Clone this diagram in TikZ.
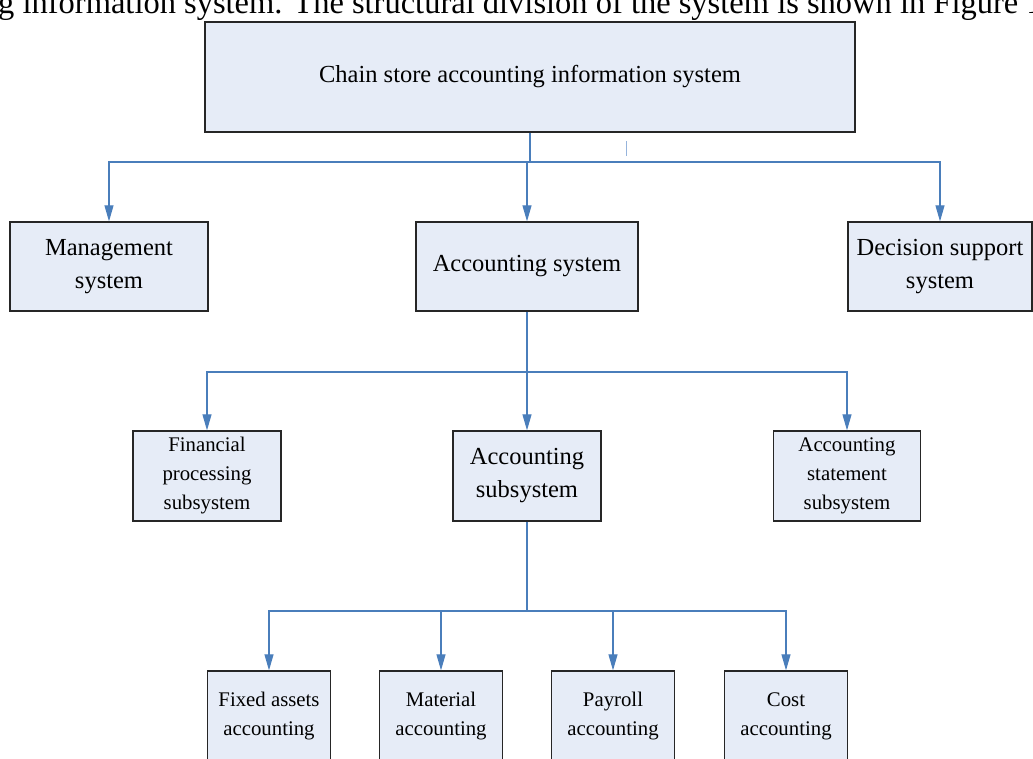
\documentclass[tikz,border=0pt]{standalone}
\usepackage{fontspec}
\setmainfont{Liberation Serif}
\usetikzlibrary{arrows.meta}

\definecolor{boxfill}{RGB}{230,236,247}
\definecolor{lineblue}{RGB}{74,126,187}
\definecolor{tickblue}{RGB}{150,180,220}

\begin{document}
\begin{tikzpicture}[
    x=1pt, y=-1pt,
    arr/.style={line width=1.1pt, lineblue},
    big/.style={font=\fontsize{24.5}{33}\selectfont},
    small/.style={font=\fontsize{20.8}{29}\selectfont},
    box/.style={fill=boxfill, draw=black!85, line width=1.3pt, align=center, inner sep=1pt},
  ]
  \useasboundingbox (0,0) rectangle (1033,758);
  \clip (0,0) rectangle (1033,758);

  \node[anchor=base west, inner sep=0pt, font=\fontsize{32.5}{38}\selectfont] (caption) at (-2,13)
    {g information system. The structural division of the system is shown in Figure 1};

  \node[box, big, minimum width=650, minimum height=110] (cais) at (530,77) {Chain store accounting information system};

  \node[box, big, minimum width=198, minimum height=89] (mgmt) at (109,266.5) {Management\\system};
  \node[box, big, minimum width=222, minimum height=89] (acct) at (527,266.5) {Accounting system};
  \node[box, big, minimum width=184, minimum height=89] (dss) at (940,266.5) {Decision support\\system};

  \node[box, small, minimum width=148, minimum height=90] (fin) at (207,476) {Financial\\processing\\subsystem};
  \node[box, big, minimum width=148, minimum height=90] (sub) at (527,476) {Accounting\\subsystem};
  \node[box, small, minimum width=147, minimum height=90] (stmt) at (847,476) {Accounting\\statement\\subsystem};

  \node[box, small, minimum width=123, minimum height=90] (fixed) at (269,716) {Fixed assets\\accounting};
  \node[box, small, minimum width=123, minimum height=90] (mat) at (441,716) {Material\\accounting};
  \node[box, small, minimum width=123, minimum height=90] (pay) at (613,716) {Payroll\\accounting};
  \node[box, small, minimum width=123, minimum height=90] (cost) at (786,716) {Cost\\accounting};

  \coordinate (bus1) at (cais.south |- 0,162);
  \coordinate (bus2) at (acct.south |- 0,372);
  \coordinate (bus3) at (sub.south |- 0,611);

  \draw[arr] (cais.south) -- (bus1);
  \foreach \n in {mgmt,acct,dss} {
      \draw[arr, -{Triangle[length=16pt,width=9pt]}] (bus1) -| (\n.north);
    }
  \draw[arr] (acct.south) -- (bus2);
  \foreach \n in {fin,sub,stmt} {
      \draw[arr, -{Triangle[length=16pt,width=9pt]}] (bus2) -| (\n.north);
    }
  \draw[arr] (sub.south) -- (bus3);
  \foreach \n in {fixed,mat,pay,cost} {
      \draw[arr, -{Triangle[length=16pt,width=9pt]}] (bus3) -| (\n.north);
    }

  \draw[tickblue, line width=1pt] (626,141) -- (626,156);

\end{tikzpicture}
\end{document}
